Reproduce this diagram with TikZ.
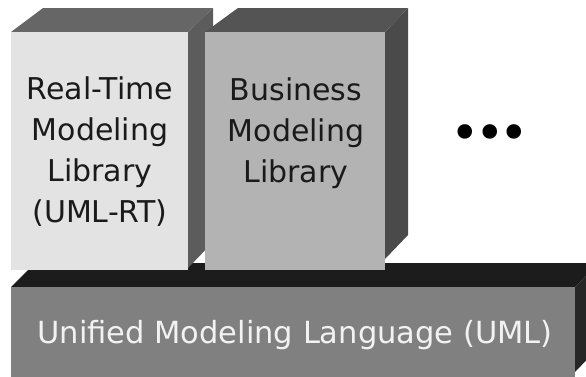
\documentclass[tikz,border=0pt]{standalone}
\usepackage{fontspec}
\setmainfont{DejaVu Sans}
\definecolor{boxAfront}{HTML}{E3E3E3}
\definecolor{boxAtop}{HTML}{666666}
\definecolor{boxAside}{HTML}{5C5C5C}
\definecolor{boxBfront}{HTML}{B3B3B3}
\definecolor{boxBtop}{HTML}{545454}
\definecolor{boxBside}{HTML}{4A4A4A}
\definecolor{slabfront}{HTML}{808080}
\definecolor{slabtop}{HTML}{1C1C1C}
\definecolor{slabside}{HTML}{262626}
\definecolor{inktext}{HTML}{1A1A1A}
\definecolor{umltext}{HTML}{F2F2F2}
\tikzset{
  libtext/.style={font=\fontsize{30}{40.7}\selectfont, align=center, text=inktext, inner sep=0pt, anchor=base},
  umllabel/.style={font=\fontsize{30.5}{36}\selectfont, text=umltext, inner sep=0pt, anchor=base},
  dotstext/.style={font=\fontsize{50}{50}\selectfont, text=black, inner sep=0pt}
}
\begin{document}
\begin{tikzpicture}[x=1pt,y=-1pt]
\useasboundingbox (0,0) rectangle (586,376);
\begin{scope}
\clip (0,0) rectangle (586,376);
% slab
\fill[slabtop] (11,287) -- (35,263) -- (599,263) -- (575,287) -- cycle;
\fill[slabside] (575,287) -- (599,263) -- (599,347) -- (575,372) -- cycle;
\fill[slabfront] (11,287) rectangle (575,380);
% box A (Real-Time)
\fill[boxAside] (188,32) -- (213,8) -- (213,242) -- (188,268) -- cycle;
\fill[boxAtop] (11,32) -- (43,8) -- (213,8) -- (188,32) -- cycle;
\fill[boxAfront] (11,32) rectangle (188,270);
% box B (Business)
\fill[boxBside] (385,32) -- (408,8) -- (408,235) -- (385,259) -- cycle;
\fill[boxBtop] (205,32) -- (238,8) -- (408,8) -- (385,32) -- cycle;
\fill[boxBfront] (205,32) rectangle (385,270);
\end{scope}
\node[libtext] (rt) at (100,222) {Real-Time\\Modeling\\Library\\(UML-RT)};
\node[libtext] (bm) at (296,182) {Business\\Modeling\\Library};
\node[dotstext] (dots) at (490,138) {•\kern-4.8pt•\kern-4.8pt•};
\node[umllabel] (uml) at (295,343) {Unified Modeling Language (UML)};
\end{tikzpicture}
\end{document}
